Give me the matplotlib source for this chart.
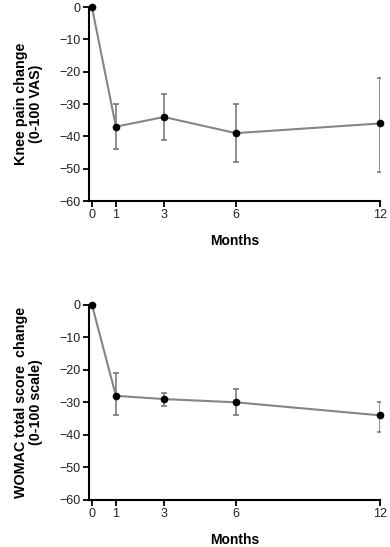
import matplotlib.pyplot as plt

plt.rcParams['font.family'] = ['Liberation Sans', 'DejaVu Sans']

months = [0, 1, 3, 6, 12]

# knee pain (0-100 VAS)
pain_mean = [0, -37, -34, -39, -36]
pain_low = [0, -44, -41, -48, -51]
pain_high = [0, -30, -27, -30, -22]

# WOMAC total score (0-100 scale)
womac_mean = [0, -28, -29, -30, -34]
womac_low = [0, -34, -31, -34, -39]
womac_high = [0, -21, -27, -26, -30]

y_ticks = [0, -10, -20, -30, -40, -50, -60]


def draw_panel(ax, mean, low, high, ylabel):
    yerr = [[m - lo for m, lo in zip(mean, low)], [hi - m for m, hi in zip(mean, high)]]
    ax.errorbar(months[1:], mean[1:], yerr=[yerr[0][1:], yerr[1][1:]], fmt='none',
                ecolor='#707070', elinewidth=1.1, capsize=2.5, capthick=1.1, zorder=2)
    ax.plot(months, mean, color='#858585', linewidth=1.5, zorder=3)
    ax.plot(months, mean, 'o', color='black', markersize=4.5, zorder=4, clip_on=False)
    ax.set_xlim(-0.125, 12)
    ax.set_ylim(-60, 0)
    ax.set_xticks(months)
    ax.set_yticks(y_ticks)
    ax.spines['top'].set_visible(False)
    ax.spines['right'].set_visible(False)
    for s in ['left', 'bottom']:
        ax.spines[s].set_linewidth(1.5)
    ax.tick_params(direction='out', length=4, width=1.3, labelsize=9, pad=2,
                   labelcolor='#222222')
    ax.set_xlabel('Months', fontsize=10, fontweight='bold', labelpad=9)
    ax.set_ylabel(ylabel, fontsize=10.3, fontweight='bold', labelpad=12, linespacing=1.05)


fig = plt.figure(figsize=(3.9, 5.47), dpi=100)
ax1 = fig.add_axes([0.228, 0.6325, 0.746, 0.3545])
ax2 = fig.add_axes([0.228, 0.086, 0.746, 0.357])

draw_panel(ax1, pain_mean, pain_low, pain_high, 'Knee pain change\n(0-100 VAS)')
draw_panel(ax2, womac_mean, womac_low, womac_high, 'WOMAC total score  change\n(0-100 scale)')

fig.savefig('out.png', dpi=100)
